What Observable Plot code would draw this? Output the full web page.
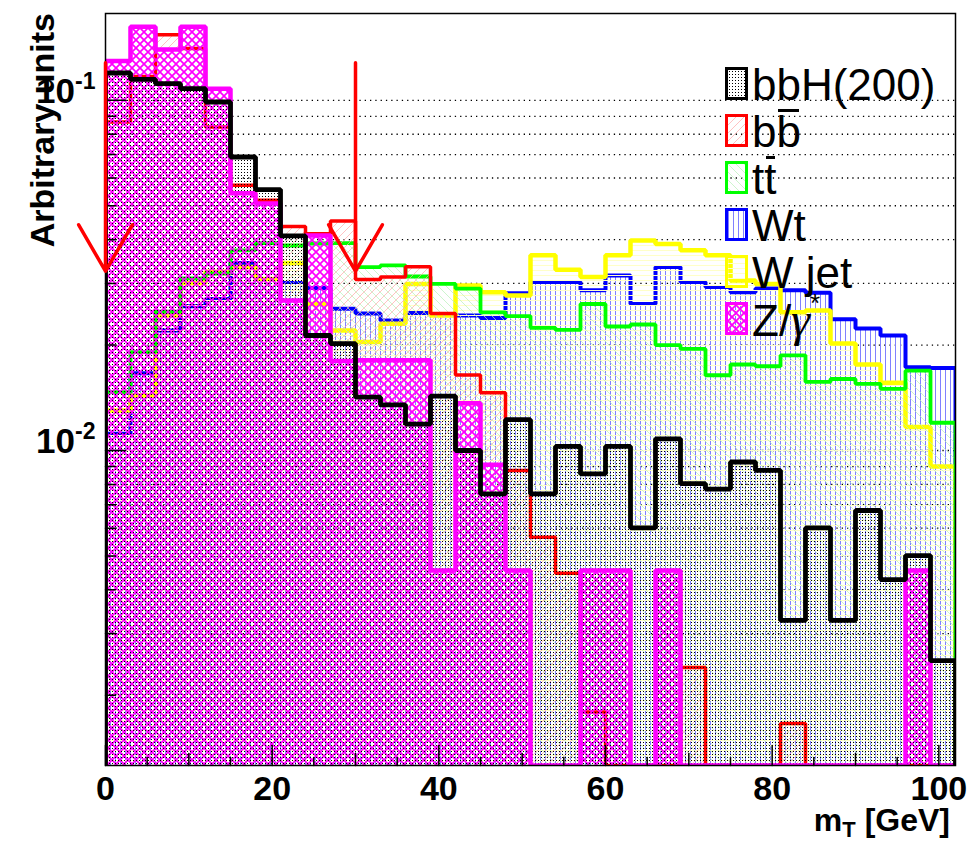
<!DOCTYPE html>
<html><head><meta charset="utf-8">
<script src="https://cdn.jsdelivr.net/npm/d3@7"></script>
<script src="https://cdn.jsdelivr.net/npm/@observablehq/plot@0.6"></script>
<style>
body{margin:0;background:#fff;}
#wrap{position:relative;width:968px;height:842px;font-family:"Liberation Sans",Arial,Helvetica,sans-serif;}
.leg{position:absolute;font-size:44px;line-height:44px;white-space:nowrap;color:#000;}
.box{position:absolute;width:23px;height:33px;box-sizing:border-box;border:3px solid;}
.box svg{display:block;}
.ov{position:relative;}
.ov::before{content:"";position:absolute;left:1.5px;right:1.5px;top:2.5px;height:3px;background:#000;}
.gam{font-family:"Liberation Serif","DejaVu Serif",serif;font-style:italic;font-size:48px;}
</style></head><body>
<svg width="0" height="0" style="position:absolute">
<defs>
<pattern id="p-bbh" patternUnits="userSpaceOnUse" width="3" height="3"><rect x="1" y="1" width="1" height="1" fill="#000"/></pattern>
<pattern id="p-z" patternUnits="userSpaceOnUse" width="8" height="8"><path d="M0,0L8,8M8,0L0,8" stroke="#ff00ff" stroke-width="1.7" fill="none"/></pattern>
<pattern id="p-bb" patternUnits="userSpaceOnUse" width="8" height="8"><path d="M0,8L8,0M-2,2L2,-2M6,10L10,6" stroke="#ffa8a8" stroke-width="0.7" fill="none"/></pattern>
<pattern id="p-tt" patternUnits="userSpaceOnUse" width="8" height="8"><path d="M0,0L8,8M6,-2L10,2M-2,6L2,10" stroke="#b8f0b8" stroke-width="0.7" fill="none"/></pattern>
<pattern id="p-wt" patternUnits="userSpaceOnUse" width="5" height="5"><path d="M0.5,0V5" stroke="#8080ff" stroke-width="1" fill="none"/></pattern>
<pattern id="p-wj" patternUnits="userSpaceOnUse" width="5" height="5"><path d="M0,0.5H5" stroke="#ffffc8" stroke-width="1" fill="none"/></pattern>
</defs></svg>
<div id="wrap"></div>
<script>
// ---- data ----
const binEdges = d3.range(0, 103, 3); // 34 bins of 3 GeV, 0..102
const bbH = [0.1197,0.1148,0.1116,0.108,0.0989,0.0689,0.0556,0.041,0.0213,0.0202,0.0142,0.0135,0.0119,0.0143,0.0100,0.00752,0.01225,0.00752,0.01027,0.00857,0.01027,0.00601,0.0108,0.00804,0.00776,0.00927,0.00877,0.00327,0.00601,0.00327,0.00674,0.00428,0.00501,0.00251];
const bbbar = [0.0867,0.117,0.154,0.1405,0.0839,0.0572,0.0518,0.0436,0.0416,0.0452,0.0308,0.0313,0.0335,0.0246,0.01644,0.01462,0.00877,0.00565,0.00446,0.00179,0,0,0,0.0024,0,0,0,0.00166,0,0,0,0,0,0];
const ttbar = [0.01468,0.0191,0.0249,0.031,0.032,0.0373,0.0391,0.0385,0.039,0.0391,0.0334,0.0338,0.0314,0.0299,0.029,0.0248,0.0242,0.0224,0.0221,0.0262,0.0226,0.0229,0.0200,0.0195,0.0164,0.0176,0.0174,0.0187,0.0157,0.0160,0.0155,0.0150,0.0169,0.0120];
const wt = [0.01116,0.01663,0.0220,0.0258,0.0271,0.0343,0.0309,0.0303,0.0291,0.0254,0.0246,0.0235,0.0247,0.0245,0.0243,0.0239,0.0281,0.0303,0.0303,0.0287,0.0316,0.0262,0.0334,0.0303,0.0293,0.0283,0.0290,0.0287,0.0282,0.0237,0.0223,0.0213,0.0173,0.0172];
const wjet = [0.0130,0.01436,0.0243,0.0301,0.0324,0.0334,0.0309,0.0343,0.0262,0.0220,0.0204,0.0230,0.0299,0.0243,0.0296,0.0283,0.0277,0.0361,0.0328,0.0313,0.0361,0.0398,0.0389,0.0373,0.0361,0.0306,0.0299,0.0248,0.0251,0.0202,0.0176,0.0156,0.01167,0.0090];
const zgamma = [0.1295,0.1622,0.1396,0.1622,0.108,0.0543,0.0507,0.0268,0.0411,0.018,0.0181,0.0181,0.0181,0.00454,0.01364,0.0091,0.00454,0,0,0.00454,0.00454,0,0.00454,0,0,0,0,0,0,0,0,0,0.00454,0];
const xTickLabels = [0, 20, 40, 60, 80, 100];
const xMidTicks = [10, 30, 50, 70, 90];
const xMinorTicks = [5, 15, 25, 35, 45, 55, 65, 75, 85, 95];
const yMajorTicks = [0.1, 0.01];
const yMinorTicks = [0.09,0.08,0.07,0.06,0.05,0.04,0.03,0.02,0.009,0.008,0.007,0.006,0.005,0.004,0.003,0.002];
const cutValues = [0, 30];
const arrowTop = 0.128, arrowBottom = 0.0325;
const yDomain = [0.00126, 0.177];
const xDomain = [0, 102];
const legendLabels = ["bbH(200)", "b<span class='ov'>b</span>", "t<span class='ov'>t</span>", "Wt", "W jet", "Z/<span class='gam'>γ</span><span style='font-size:26px;position:relative;top:-24px'>*</span>"];

// ---- build ----
const floorV = yDomain[0];
function steps(vals) {
  const pts = [{x: binEdges[0], y: floorV}];
  vals.forEach((v, i) => { const y = v > 0 ? v : floorV; pts.push({x: binEdges[i], y}, {x: binEdges[i + 1], y}); });
  pts.push({x: binEdges[binEdges.length - 1], y: floorV});
  return pts;
}
const S = {
  wt:   {vals: wt, color: "#0000ff", pat: "p-wt", sw: 4},
  wjet: {vals: wjet, color: "#ffff00", pat: "p-wj", sw: 4.5},
  tt:   {vals: ttbar, color: "#00ff00", pat: "p-tt", sw: 3.8},
  bb:   {vals: bbbar, color: "#ff0000", pat: "p-bb", sw: 3.5},
  z:    {vals: zgamma, color: "#ff00ff", pat: "p-z", sw: 4.5},
  bbh:  {vals: bbH, color: "#000000", pat: "p-bbh", sw: 4.8}
};
const area = s => Plot.areaY(steps(s.vals), {x: "x", y1: floorV, y2: "y", fill: `url(#${s.pat})`, clip: true});
const line = s => Plot.line(steps(s.vals), {x: "x", y: "y", stroke: s.color, strokeWidth: s.sw, strokeLinejoin: "miter", strokeLinecap: "butt", clip: true});
const tickUp = {draw(ctx, l) { ctx.moveTo(0, 0); ctx.lineTo(0, -l); }};

const marks = [
  Plot.ruleY([...yMajorTicks, ...yMinorTicks], {stroke: "#000", strokeWidth: 1.3, strokeDasharray: "1.3,4"}),
  area(S.wt), line(S.wt),
  area(S.wjet), line(S.wjet),
  area(S.tt), line(S.tt),
  area(S.bb), line(S.bb),
  area(S.z), area(S.bbh),
  line(S.z), line(S.bbh),
  Plot.frame({stroke: "#000", strokeWidth: 1.5}),
  Plot.vector(xTickLabels, {x: d => d, frameAnchor: "bottom", length: 20, rotate: 0, anchor: "start", shape: tickUp, stroke: "#000", strokeWidth: 1.5}),
  Plot.vector(xMidTicks, {x: d => d, frameAnchor: "bottom", length: 12, rotate: 0, anchor: "start", shape: tickUp, stroke: "#000", strokeWidth: 1.5}),
  Plot.vector(xMinorTicks, {x: d => d, frameAnchor: "bottom", length: 8, rotate: 0, anchor: "start", shape: tickUp, stroke: "#000", strokeWidth: 1.5}),
  Plot.vector(yMajorTicks, {y: d => d, frameAnchor: "left", length: 20, rotate: 90, anchor: "start", shape: tickUp, stroke: "#000", strokeWidth: 1.5}),
  Plot.vector(yMinorTicks, {y: d => d, frameAnchor: "left", length: 10, rotate: 90, anchor: "start", shape: tickUp, stroke: "#000", strokeWidth: 1.5}),
  Plot.arrow(cutValues, {x1: d => d, x2: d => d, y1: arrowTop, y2: arrowBottom, stroke: "#ff0000", strokeWidth: 3.5, headAngle: 60, headLength: 23}),
  Plot.axisX(xTickLabels, {tickSize: 0, tickPadding: 10, fontSize: 34, fontWeight: "bold", label: null, tickFormat: d => String(d)}),
  Plot.axisY(yMajorTicks, {tickSize: 0, tickPadding: 10, fontSize: 35, fontWeight: "bold", label: null, dy: -9, tickFormat: d => String(Math.round(Math.log10(d)))})
];

const chart = Plot.plot({
  width: 968, height: 842,
  marginLeft: 105, marginRight: 13, marginTop: 13, marginBottom: 77,
  x: {domain: xDomain},
  y: {type: "log", domain: yDomain},
  style: {fontFamily: '"Liberation Sans", Arial, Helvetica, sans-serif', background: "white", overflow: "visible", color: "#000"},
  marks
});
const wrap = document.getElementById("wrap");
wrap.appendChild(chart);

// superscript exponents on y labels
chart.querySelectorAll('g[aria-label="y-axis tick label"] text').forEach(t => {
  const e = t.textContent;
  t.textContent = "10";
  const ts = document.createElementNS("http://www.w3.org/2000/svg", "tspan");
  ts.setAttribute("dy", "-14"); ts.setAttribute("font-size", "23");
  ts.textContent = e;
  t.appendChild(ts);
});

// axis titles
const svg = d3.select(chart);
const xt = svg.append("text").attr("x", 950).attr("y", 831).attr("text-anchor", "end")
  .attr("font-size", 32).attr("font-weight", "bold").attr("fill", "#000");
xt.append("tspan").text("m");
xt.append("tspan").attr("font-size", 22).attr("dy", 6).text("T");
xt.append("tspan").attr("font-size", 32).attr("dy", -6).text(" [GeV]");
svg.append("text").attr("transform", "translate(54,13) rotate(-90)").attr("text-anchor", "end")
  .attr("font-size", 34).attr("font-weight", "bold").attr("fill", "#000").text("Arbitrary units");

// legend
const legSeries = [S.bbh, S.bb, S.tt, S.wt, S.wjet, S.z];
legSeries.forEach((s, i) => {
  const base = 100 + 47 * i;
  const box = document.createElement("div");
  box.className = "box";
  box.style.left = "725px"; box.style.top = (base - 33) + "px"; box.style.borderColor = s.color;
  box.innerHTML = `<svg width="17" height="27"><rect width="17" height="27" fill="url(#${s.pat})"/></svg>`;
  wrap.appendChild(box);
  const tx = document.createElement("div");
  tx.className = "leg";
  tx.style.left = "752px"; tx.style.top = (base - 37.25) + "px";
  tx.innerHTML = legendLabels[i];
  wrap.appendChild(tx);
});
</script>
</body></html>
